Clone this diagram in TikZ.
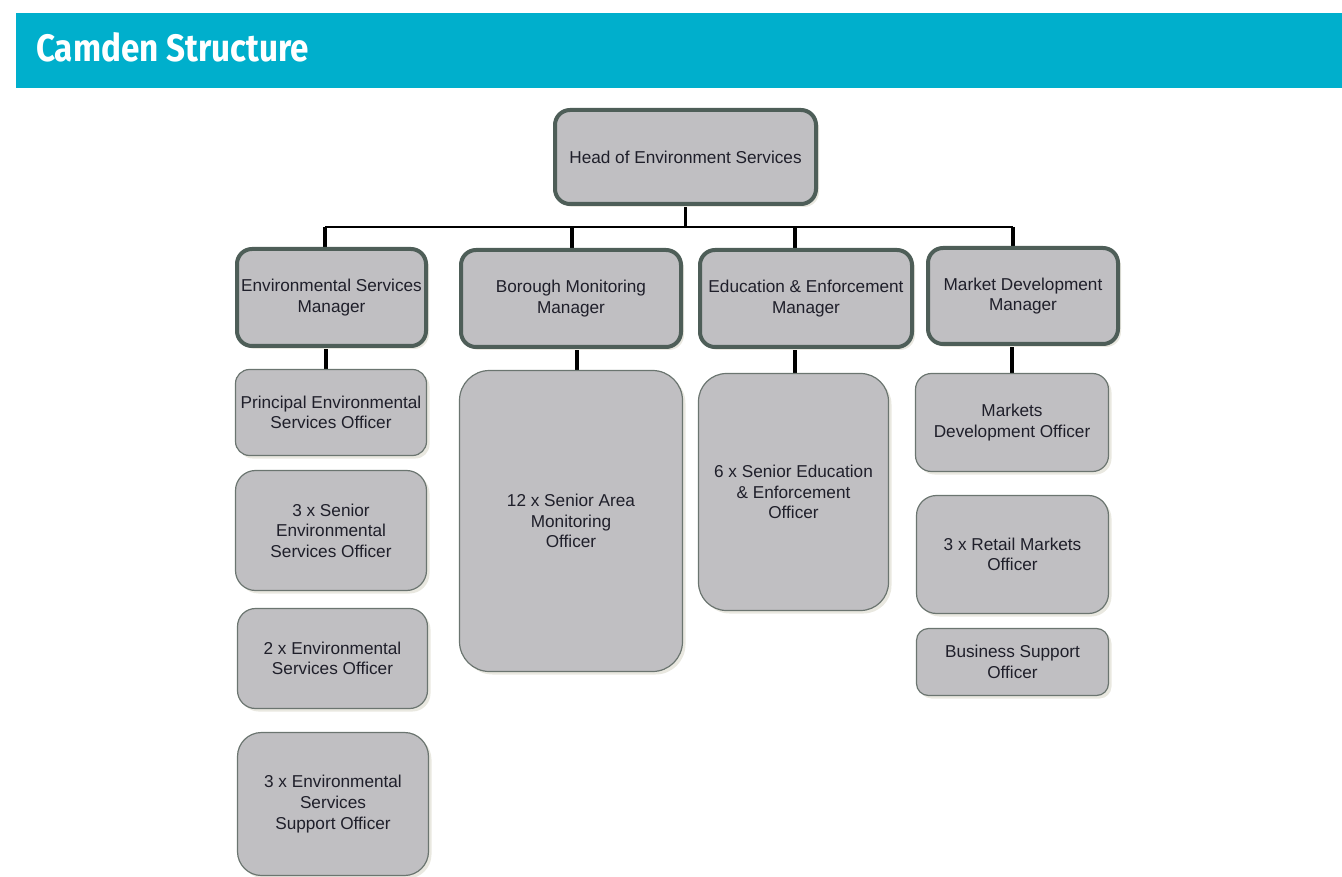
\documentclass[tikz,border=0pt]{standalone}
\usepackage{fontspec}
\setmainfont{Liberation Sans}
\newfontfamily\titlefont{Fira Sans}
\usetikzlibrary{shadows,backgrounds}
\definecolor{bandc}{HTML}{00AFCC}
\definecolor{boxfill}{HTML}{C0BFC2}
\definecolor{thickc}{HTML}{4E5E58}
\definecolor{thinc}{HTML}{6B7570}
\definecolor{txtc}{HTML}{1F1F2A}
\definecolor{shadowc}{HTML}{E9E8E0}
\begin{document}
\begin{tikzpicture}[x=1pt,y=-1pt,
  box/.style={fill=boxfill, text=txtc, align=center, inner sep=0pt,
    font=\fontsize{17.2}{20.6}\selectfont,
    drop shadow={shadow xshift=3pt, shadow yshift=-3pt, fill=shadowc, opacity=1}},
  mgr/.style={box, draw=thickc, line width=4pt, rounded corners=15pt},
  sub/.style={box, draw=thinc, line width=1.2pt},
  busline/.style={draw=black, line width=2.5pt},
  dropline/.style={draw=black, line width=4pt},
  headline/.style={draw=black, line width=3pt}]
\useasboundingbox (0,0) rectangle (1342,877);
% header band
\fill[bandc] (16,13) rectangle (1342,88);
\node[anchor=base west, inner sep=0pt, text=white] (title) at (36,62)
  {\resizebox{273pt}{29pt}{\titlefont\bfseries Camden Structure}};
% top
\node[mgr, minimum width=261, minimum height=94] (head) at (685.5,157) {Head of Environment Services};
% managers
\node[mgr, minimum width=189, minimum height=97] (esm) at (331.5,297.5) {Environmental Services\\Manager};
\node[mgr, minimum width=220, minimum height=97] (bmm) at (571,298.5) {Borough Monitoring\\Manager};
\node[mgr, minimum width=212, minimum height=97] (eem) at (806,298.5) {Education \& Enforcement\\Manager};
\node[mgr, minimum width=190, minimum height=96] (mdm) at (1023,296) {Market Development\\Manager};
% staff
\node[sub, rounded corners=14pt, minimum width=191, minimum height=86] (peso) at (331,412.5) {Principal Environmental\\Services Officer};
\node[sub, rounded corners=20pt, minimum width=191, minimum height=120] (seso) at (331,530.5) {3 x Senior\\Environmental\\Services Officer};
\node[sub, rounded corners=18pt, minimum width=190, minimum height=100] (eso) at (332.5,658.5) {2 x Environmental\\Services Officer};
\node[sub, rounded corners=24pt, minimum width=191, minimum height=143] (esso) at (333,804) {3 x Environmental\\Services\\Support Officer};
\node[sub, rounded corners=30pt, minimum width=223, minimum height=301] (samo) at (571,521) {12 x Senior Area\\Monitoring\\Officer};
\node[sub, rounded corners=28pt, minimum width=190, minimum height=237] (seeo) at (793.5,492) {6 x Senior Education\\\& Enforcement\\Officer};
\node[sub, rounded corners=16pt, minimum width=193, minimum height=98] (mdo) at (1012,422.5) {Markets\\Development Officer};
\node[sub, rounded corners=20pt, minimum width=192, minimum height=118] (rmo) at (1012.5,554.5) {3 x Retail Markets\\Officer};
\node[sub, rounded corners=12pt, minimum width=192, minimum height=67] (bso) at (1012.5,662) {Business Support\\Officer};
% connectors
\coordinate (busL) at (325,227);
\coordinate (busB) at (572,227);
\coordinate (busE) at (795,227);
\coordinate (busR) at (1013,227);
\begin{pgfonlayer}{background}
\draw[headline] (head.south) -- (head.south |- busL);
\draw[busline] (busL) -- (busR);
\draw[dropline] (busL) -- (busL |- esm.north);
\draw[dropline] (busB) -- (busB |- bmm.north);
\draw[dropline] (busE) -- (busE |- eem.north);
\draw[dropline] (busR) -- (busR |- mdm.north);
\draw[dropline] ([xshift=-5.5pt]esm.south) -- ([xshift=-5.5pt]esm.south |- peso.north);
\draw[dropline] ([xshift=6pt]bmm.south) -- ([xshift=6pt]bmm.south |- samo.north);
\draw[dropline] ([xshift=-11pt]eem.south) -- ([xshift=-11pt]eem.south |- seeo.north);
\draw[dropline] ([xshift=-11pt]mdm.south) -- ([xshift=-11pt]mdm.south |- mdo.north);
\end{pgfonlayer}
\end{tikzpicture}
\end{document}
